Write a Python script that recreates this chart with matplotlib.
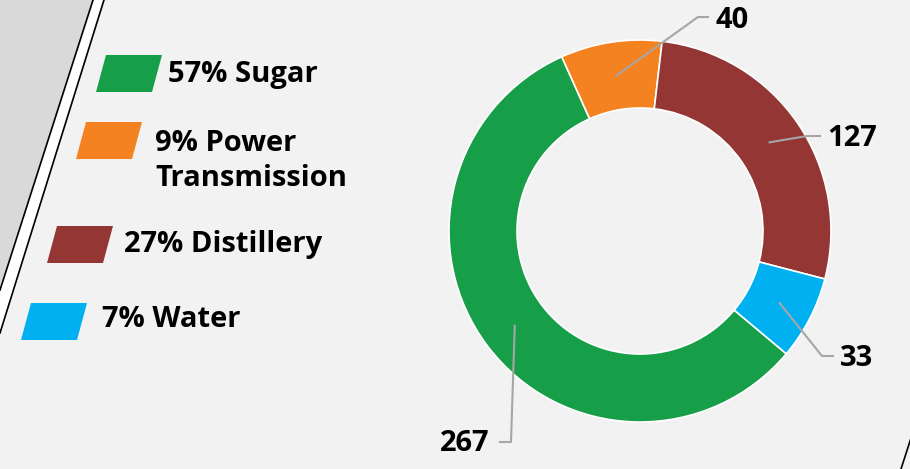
import numpy as np
import matplotlib.pyplot as plt
from matplotlib.patches import Polygon

# chart data
sectors = ['Sugar', 'Power\nTransmission', 'Distillery', 'Water']
values = [267, 40, 127, 33]
colors = ['#179e48', '#f58220', '#943634', '#00b0f0']

W, H = 910, 469
plt.rcParams['font.family'] = ['Open Sans', 'DejaVu Sans']

fig = plt.figure(figsize=(W / 100, H / 100), dpi=100)
fig.patch.set_facecolor('#f2f2f2')
ax = fig.add_axes([0, 0, 1, 1])
ax.set_facecolor('#f2f2f2')


def iy(y):
    # image pixel row -> axes y
    return H - y


# background decoration: grey corner, double diagonal rule
ax.add_patch(Polygon([(0, iy(0)), (93, iy(0)), (0, iy(290))], closed=True,
                     facecolor='#d9d9d9', edgecolor='none', zorder=0))
ax.plot([93, 0], [iy(0), iy(290)], color='black', lw=1.2, zorder=1)
ax.plot([104, 0], [iy(0), iy(333)], color='black', lw=1.2, zorder=1)
ax.add_patch(Polygon([(94.5, iy(0)), (102.5, iy(0)), (0, iy(331)), (0, iy(292))],
                     closed=True, facecolor='white', edgecolor='none', zorder=0))
ax.plot([911, 901], [iy(438), iy(469)], color='black', lw=1.2, zorder=1)

# donut
cx, cy, R = 640, iy(231), 191
width = 68
wedges, _ = ax.pie(values, colors=colors, startangle=-40, counterclock=False,
                   center=(cx, cy), radius=R,
                   wedgeprops=dict(width=width, edgecolor='white', linewidth=1.2))

# leader lines and value labels
elbows = [((511, 442), (500, 442), (489, 443), 'right'),
          ((698, 17), (708, 17), (716, 20), 'left'),
          ((807, 136), (820, 136), (827, 138), 'left'),
          ((822, 356), (833, 356), (840, 358), 'left')]
rmid = R - width / 2
for w, v, (e1, e2, t, ha) in zip(wedges, values, elbows):
    ang = np.deg2rad((w.theta1 + w.theta2) / 2)
    x0, y0 = cx + rmid * np.cos(ang), cy + rmid * np.sin(ang)
    ax.plot([x0, e1[0], e2[0]], [y0, iy(e1[1]), iy(e2[1])],
            color='#a6a6a6', lw=1.5, zorder=3)
    ax.text(t[0], iy(t[1]), str(v), ha=ha, va='center', fontsize=21,
            fontweight='bold', color='black')

# custom legend with slanted swatches
total = sum(values)
swatches = [(96, 55), (76, 122), (47, 226), (21, 303)]
text_pos = [(168, 74), (155, 161), (124, 244), (102, 319)]
for name, v, c, (sx, sy), (tx, ty) in zip(sectors, values, colors, swatches, text_pos):
    sw, sh, sk = 56, 37, 10
    ax.add_patch(Polygon([(sx, iy(sy + sh)), (sx + sw, iy(sy + sh)),
                          (sx + sw + sk, iy(sy)), (sx + sk, iy(sy))],
                         closed=True, facecolor=c, edgecolor='none'))
    pct = round(100 * v / total)
    ax.text(tx, iy(ty), f'{pct}% {name}', ha='left', va='center', fontsize=21,
            fontweight='bold', color='black', linespacing=1.3)

ax.set_xlim(0, W)
ax.set_ylim(0, H)
ax.set_aspect('auto')
ax.axis('off')

fig.savefig('out.png', dpi=100, facecolor=fig.get_facecolor())
